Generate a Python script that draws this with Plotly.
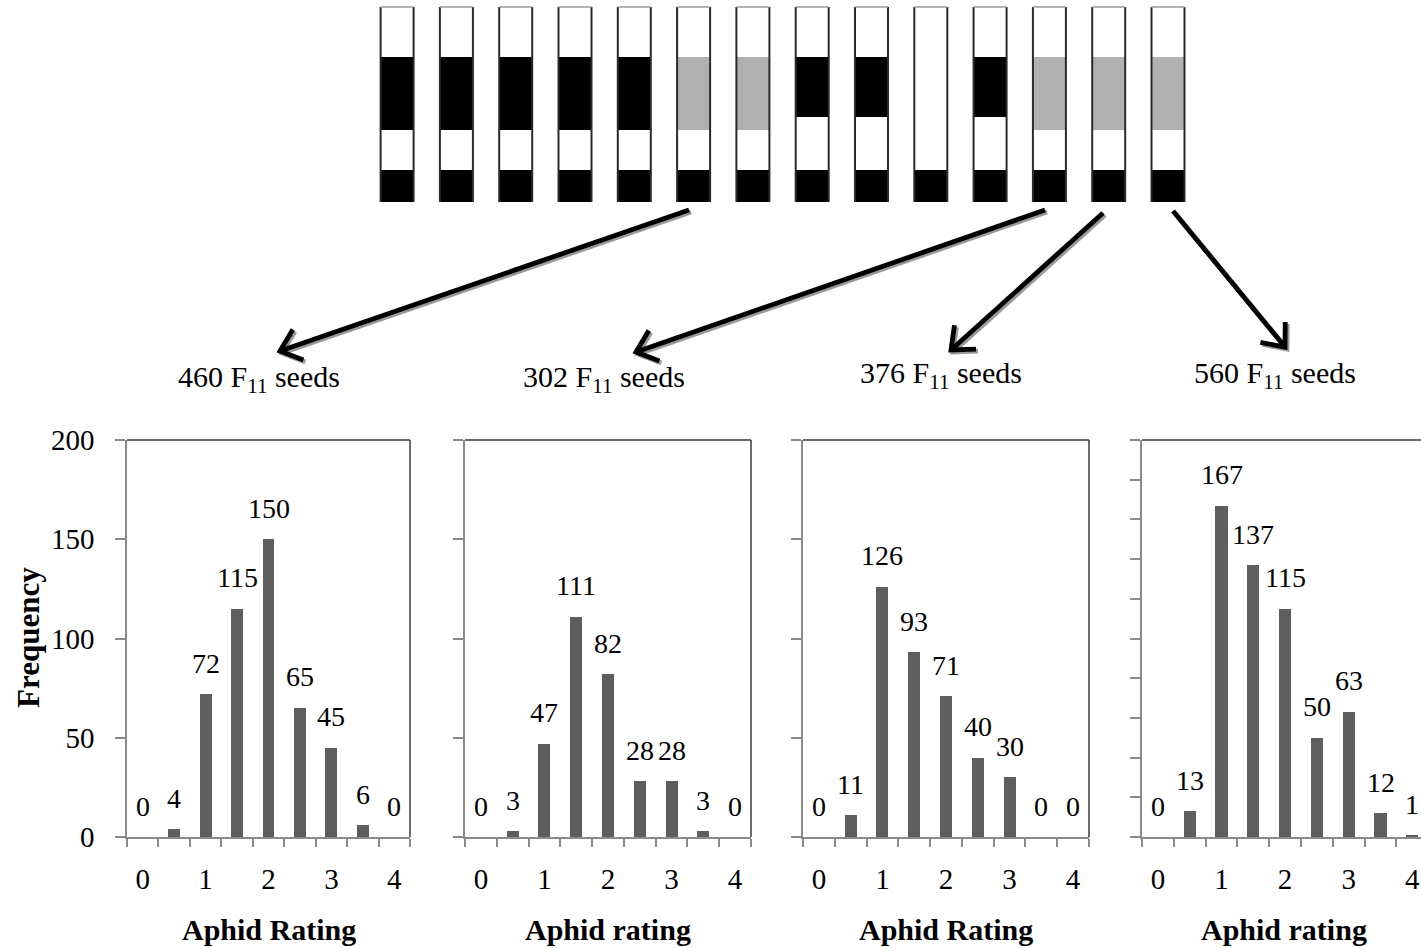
import math
import plotly.graph_objects as go

W, H = 1421, 948

# ---------------- data ----------------
ratings = [0, 0.5, 1, 1.5, 2, 2.5, 3, 3.5, 4]
freq_460 = [0, 4, 72, 115, 150, 65, 45, 6, 0]
freq_302 = [0, 3, 47, 111, 82, 28, 28, 3, 0]
freq_376 = [0, 11, 126, 93, 71, 40, 30, 0, 0]
freq_560 = [0, 13, 167, 137, 115, 50, 63, 12, 1]
seed_counts = [460, 302, 376, 560]
x_titles = ["Aphid Rating", "Aphid rating", "Aphid Rating", "Aphid rating"]
y_title = "Frequency"
x_tick_labels = ["0", "1", "2", "3", "4"]
# genotype schematic: B = long black segment, b = short black, G = grey, W = none
column_pattern = ["B", "B", "B", "B", "B", "G", "G", "b", "b", "W", "b", "G", "G", "G"]

series = [freq_460, freq_302, freq_376, freq_560]

# ---------------- helpers ----------------
def px(x):
    return x / W

def py(y):
    return 1 - y / H

FONT = "Liberation Serif"
BAR_COLOR = "#5e5e5e"
AXIS_COLOR = "#8a8a8a"
BORDER_COLOR = "#3a3a3a"

# panel geometry (pixels)
panels = [(127, 410), (465, 751), (803, 1089), (1142, 1421)]
Y_TOP, Y_BOT = 440, 837
cat_w4 = 31.8
x_max = [4.25, 4.25, 4.25, -0.25 + (1421 - 1142) / cat_w4 * 0.5]
y_dticks = [50, 50, 50, 20]

fig = go.Figure()
shapes = []
annotations = []

for i, (freq, (l, r)) in enumerate(zip(series, panels)):
    n = i + 1
    xa = "x" if n == 1 else f"x{n}"
    ya = "y" if n == 1 else f"y{n}"
    fig.add_trace(go.Bar(
        x=ratings, y=freq, width=0.19,
        marker=dict(color=BAR_COLOR, line=dict(width=0)),
        xaxis=xa, yaxis=ya, showlegend=False, hoverinfo="x+y",
    ))
    xkey = "xaxis" if n == 1 else f"xaxis{n}"
    ykey = "yaxis" if n == 1 else f"yaxis{n}"
    fig.layout[xkey] = dict(
        domain=[px(l), px(r)], range=[-0.25, x_max[i]], anchor=ya,
        showline=True, linecolor=AXIS_COLOR, linewidth=1.5,
        tickmode="array", tickvals=[0, 1, 2, 3, 4], ticktext=x_tick_labels,
        ticks="outside", ticklen=0, tickcolor=AXIS_COLOR,
        ticklabelstandoff=15, automargin=False,
        tickfont=dict(family=FONT, size=29, color="black"),
        minor=dict(tickmode="linear", tick0=-0.25, dtick=0.5, ticks="outside",
                   ticklen=8, tickwidth=1.5, tickcolor=AXIS_COLOR, showgrid=False),
        showgrid=False, zeroline=False, fixedrange=True,
    )
    fig.layout[ykey] = dict(
        domain=[py(Y_BOT), py(Y_TOP)], range=[0, 200], anchor=xa,
        showline=True, linecolor=AXIS_COLOR, linewidth=1.5,
        tickmode="linear", tick0=0, dtick=y_dticks[i],
        ticks="outside", ticklen=10, tickwidth=1.5, tickcolor=AXIS_COLOR,
        showticklabels=(n == 1), ticklabelstandoff=15, automargin=False,
        tickfont=dict(family=FONT, size=29, color="black"),
        showgrid=False, zeroline=False, fixedrange=True,
    )
    # top / right border of plot box
    shapes.append(dict(type="line", xref="paper", yref="paper",
                       x0=px(l), x1=px(r) if n < 4 else 1.0, y0=py(Y_TOP), y1=py(Y_TOP),
                       line=dict(color=BORDER_COLOR, width=1.5)))
    if n < 4:
        shapes.append(dict(type="line", xref="paper", yref="paper",
                           x0=px(r), x1=px(r), y0=py(Y_TOP), y1=py(Y_BOT),
                           line=dict(color=BORDER_COLOR, width=1.5)))
    # value labels
    for rt, v in zip(ratings, freq):
        annotations.append(dict(xref=xa, yref=ya, x=rt, y=v, text=str(v),
                                showarrow=False, yanchor="middle", yshift=31,
                                font=dict(family=FONT, size=28, color="black")))
    # x title
    cx = (l + r) / 2 if n < 4 else 1284
    annotations.append(dict(xref="paper", yref="paper", x=px(cx), y=py(929),
                            text=f"<b>{x_titles[i]}</b>", showarrow=False,
                            xanchor="center", yanchor="middle",
                            font=dict(family=FONT, size=30, color="black")))

# y title
annotations.append(dict(xref="paper", yref="paper", x=px(28), y=py(638),
                        text=f"<b>{y_title}</b>", textangle=-90, showarrow=False,
                        xanchor="center", yanchor="middle",
                        font=dict(family=FONT, size=31, color="black")))

# seed labels
label_pos = [(259, 379), (604, 379), (941, 375), (1275, 375)]
for cnt, (lx, ly) in zip(seed_counts, label_pos):
    annotations.append(dict(xref="paper", yref="paper", x=px(lx), y=py(ly),
                            text=f"{cnt} F<sub>11</sub> seeds", showarrow=False,
                            xanchor="center", yanchor="middle",
                            font=dict(family=FONT, size=30, color="black")))

# ---------------- genotype schematic ----------------
COL_X0, COL_PITCH, COL_W = 380.6, 59.3, 33
T0, A, B_LONG, B_SHORT, C, D = 7, 57, 130, 117, 170, 202
for k, p in enumerate(column_pattern):
    x0 = COL_X0 + k * COL_PITCH
    x1 = x0 + COL_W
    shapes.append(dict(type="rect", xref="paper", yref="paper",
                       x0=px(x0), x1=px(x1), y0=py(D), y1=py(T0),
                       fillcolor="white", line=dict(width=0), layer="above"))
    if p != "W":
        yb = B_SHORT if p == "b" else B_LONG
        col = "#b0b0b0" if p == "G" else "black"
        shapes.append(dict(type="rect", xref="paper", yref="paper",
                           x0=px(x0), x1=px(x1), y0=py(yb), y1=py(A),
                           fillcolor=col, line=dict(width=0), layer="above"))
    shapes.append(dict(type="rect", xref="paper", yref="paper",
                       x0=px(x0), x1=px(x1), y0=py(D), y1=py(C),
                       fillcolor="black", line=dict(width=0), layer="above"))
    for xx in (x0, x1):
        shapes.append(dict(type="line", xref="paper", yref="paper",
                           x0=px(xx), x1=px(xx), y0=py(D), y1=py(T0),
                           line=dict(color="#2a2a2a", width=2), layer="above"))
    shapes.append(dict(type="line", xref="paper", yref="paper",
                       x0=px(x0), x1=px(x1), y0=py(T0), y1=py(T0),
                       line=dict(color="#9a9a9a", width=1.5), layer="above"))

# ---------------- arrows ----------------
arrows = [((689, 210), (280, 351)), ((1045, 210), (636, 352)),
          ((1103, 213), (951, 350)), ((1173, 211), (1285, 347))]

def arrow_paths(s, e, dx=0.0, dy=0.0):
    (sx, sy), (ex, ey) = s, e
    sx, sy, ex, ey = sx + dx, sy + dy, ex + dx, ey + dy
    ang = math.atan2(sy - ey, sx - ex)
    L, spread = 25, math.radians(40)
    a1 = (ex + L * math.cos(ang + spread), ey + L * math.sin(ang + spread))
    a2 = (ex + L * math.cos(ang - spread), ey + L * math.sin(ang - spread))
    shaft = f"M {px(sx)},{py(sy)} L {px(ex)},{py(ey)}"
    head = f"M {px(a1[0])},{py(a1[1])} L {px(ex)},{py(ey)} L {px(a2[0])},{py(a2[1])}"
    return shaft, head

for s, e in arrows:
    for (dx, dy, color) in ((2.0, 2.0, "#9a9a9a"), (0.0, 0.0, "black")):
        shaft, head = arrow_paths(s, e, dx, dy)
        for pth in (shaft, head):
            shapes.append(dict(type="path", xref="paper", yref="paper", path=pth,
                               line=dict(color=color, width=4.8), layer="above"))

fig.update_layout(
    width=W, height=H, margin=dict(l=0, r=0, t=0, b=0, pad=0, autoexpand=False),
    paper_bgcolor="white", plot_bgcolor="rgba(0,0,0,0)",
    font=dict(family=FONT, color="black"),
    shapes=shapes, annotations=annotations, bargap=0,
    showlegend=False,
)

fig.write_html("out.html")
